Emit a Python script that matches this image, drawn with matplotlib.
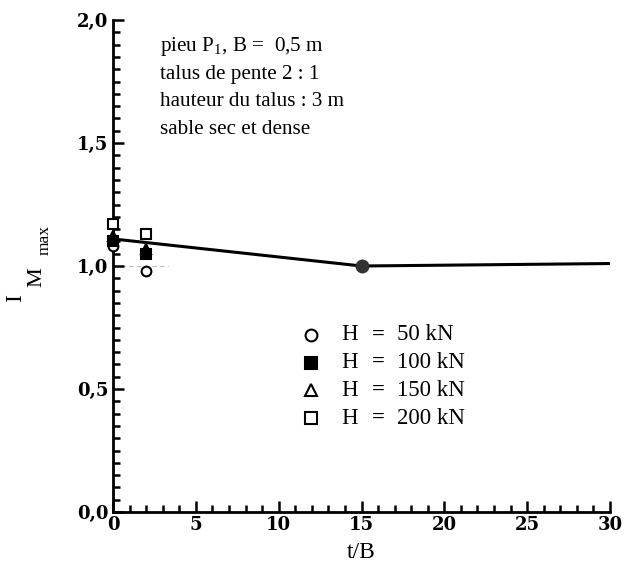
import matplotlib.pyplot as plt
from matplotlib.ticker import MultipleLocator, FuncFormatter

plt.rcParams['font.family'] = ['Liberation Serif', 'DejaVu Serif']

# I_Mmax measurements for each lateral load H
tb_points = [0, 2]
im_50 = [1.08, 0.98]
im_100 = [1.10, 1.05]
im_150 = [1.12, 1.07]
im_200 = [1.17, 1.13]

# fitted trend
tb_fit = [0, 15, 30]
im_fit = [1.11, 1.0, 1.01]
tb_ref = [15]
im_ref = [1.0]

loads = ['50 kN', '100 kN', '150 kN', '200 kN']

fig = plt.figure(figsize=(6.27, 5.81), dpi=100)
ax = fig.add_axes([113 / 627, 69 / 581, 497 / 627, 492 / 581])

ax.plot([0, 3.3], [1.0, 1.0], color='#bbbbbb', lw=0.8, ls=(0, (4, 3)), zorder=1)
ax.plot(tb_fit, im_fit, color='black', lw=2.2, zorder=2)
ax.plot(tb_ref, im_ref, 'o', color='#333333', ms=9, zorder=3)

ms = 7
kw = dict(mec='black', mew=1.5, ms=ms, clip_on=False, ls='none')
ax.plot(tb_points, im_50, 'o', mfc='white', zorder=4, **kw)
ax.plot(tb_points, im_100, 's', mfc='black', zorder=4, **kw)
ax.plot(tb_points, im_150, '^', mfc='black', zorder=4, **kw)
ax.plot(tb_points, im_200, 's', mfc='white', zorder=5, **kw)

ax.set_xlim(0, 30)
ax.set_ylim(0, 2.0)
for s in ['top', 'right']:
    ax.spines[s].set_visible(False)
for s in ['left', 'bottom']:
    ax.spines[s].set_linewidth(2.0)

ax.xaxis.set_major_locator(MultipleLocator(5))
ax.xaxis.set_minor_locator(MultipleLocator(1))
ax.yaxis.set_major_locator(MultipleLocator(0.5))
ax.yaxis.set_minor_locator(MultipleLocator(0.05))
ax.yaxis.set_major_formatter(FuncFormatter(lambda v, p: f'{v:.1f}'.replace('.', ',')))
ax.tick_params(which='both', direction='in', width=1.8, labelsize=13)
ax.tick_params(which='major', length=8)
ax.tick_params(which='minor', length=5)
ax.tick_params(axis='x', pad=3)
for lab in ax.get_xticklabels() + ax.get_yticklabels():
    lab.set_fontweight('bold')
    lab.set_family(['DejaVu Serif'])

ax.set_xlabel('t/B', fontsize=17, labelpad=6)

# y label I with subscript M and sub-subscript max, set piece by piece
fig.text(16 / 627, 1 - 298 / 581, 'I', fontsize=17, rotation=90, ha='center', va='center')
fig.text(37 / 627, 1 - 277 / 581, 'M', fontsize=16, rotation=90, ha='center', va='center')
fig.text(45 / 627, 1 - 240 / 581, 'max', fontsize=12.5, rotation=90, ha='center', va='center')

info = ['pieu P$_{\\mathregular{1}}$, B =  0,5 m',
        'talus de pente 2 : 1',
        'hauteur du talus : 3 m',
        'sable sec et dense']
for i, line in enumerate(info):
    fig.text(160 / 627, 1 - (47 + i * 27.5) / 581, line, fontsize=15.2, va='center')

markers = [('o', 'white'), ('s', 'black'), ('^', 'white'), ('s', 'white')]
for i, ((m, fc), load) in enumerate(zip(markers, loads)):
    y = 1 - (335 + i * 27.7) / 581
    fig.lines.append(plt.Line2D([311 / 627], [y], marker=m, mfc=fc, mec='black',
                                mew=1.5, ms=8.5, transform=fig.transFigure))
    fig.text(341 / 627, y, 'H', fontsize=16.5, va='center')
    fig.text(378 / 627, y, '=', fontsize=16.5, va='center', ha='center', fontweight='bold')
    fig.text(397 / 627, y, load, fontsize=16.5, va='center')

fig.savefig('out.png', dpi=100)
